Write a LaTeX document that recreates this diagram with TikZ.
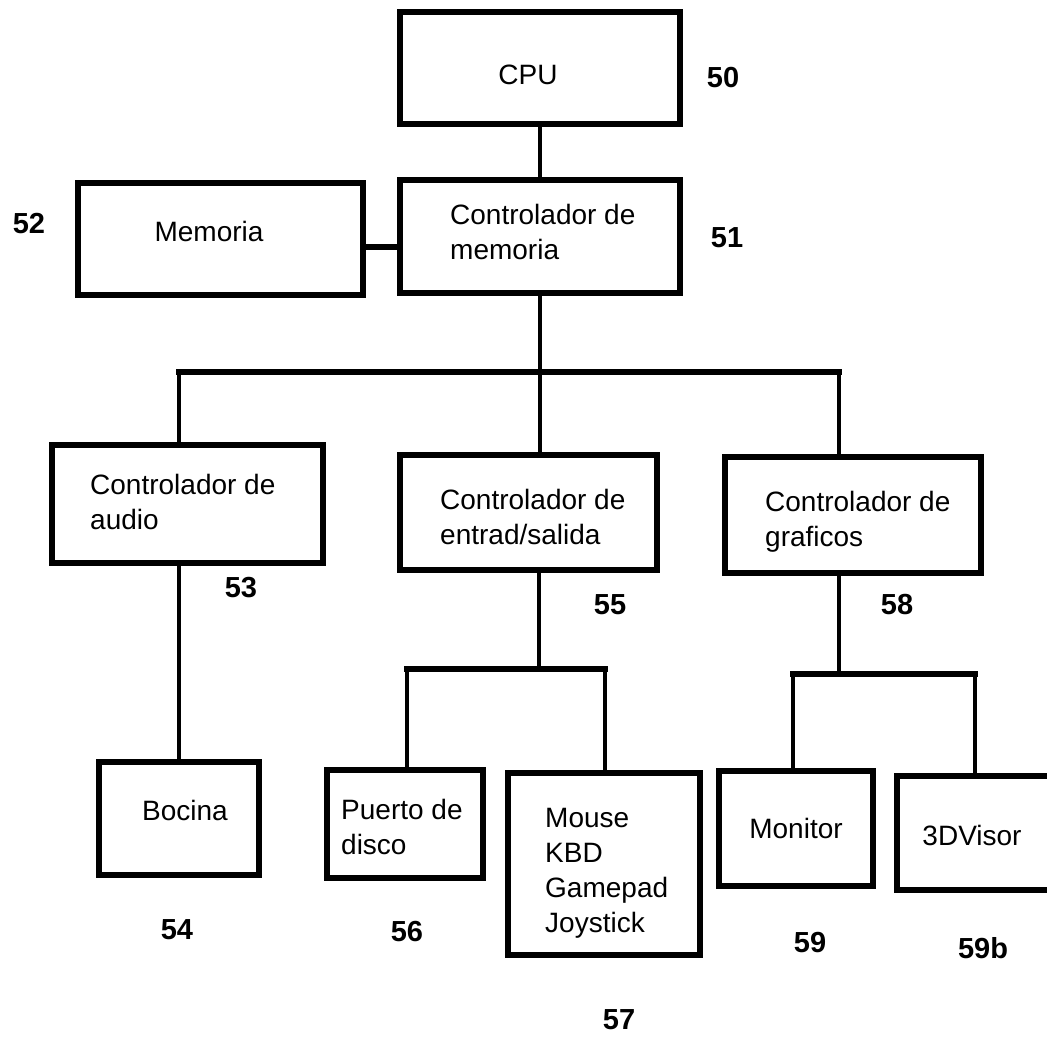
\documentclass[tikz,border=0pt]{standalone}
\usepackage{fontspec}
\setmainfont{Liberation Sans}
\begin{document}
\begin{tikzpicture}[x=1pt,y=-1pt,
  blk/.style={draw, line width=5.5pt, rectangle, inner sep=0pt},
  txt/.style={font=\fontsize{28}{35}\selectfont, align=left, inner sep=0pt},
  num/.style={font=\fontsize{29}{30}\selectfont\bfseries, inner sep=0pt},
  wire/.style={line width=3.5pt},
  bar/.style={line width=6pt, line cap=rect}]
\useasboundingbox (0,0) rectangle (1047,1037);
% boxes
\node[blk, minimum width=280pt, minimum height=112pt] (cpu) at (540,68) {};
\node[blk, minimum width=280pt, minimum height=113pt] (ctrl) at (540,236.5) {};
\node[blk, minimum width=285pt, minimum height=112pt] (mem) at (220.5,239) {};
\node[blk, minimum width=271pt, minimum height=118pt] (audio) at (187.5,504) {};
\node[blk, minimum width=257pt, minimum height=115pt] (io) at (528.5,512.5) {};
\node[blk, minimum width=256pt, minimum height=116pt] (gfx) at (853,515) {};
\node[blk, minimum width=160pt, minimum height=113pt] (bocina) at (179,818.5) {};
\node[blk, minimum width=156pt, minimum height=108pt] (puerto) at (405,824) {};
\node[blk, minimum width=192pt, minimum height=182pt] (mouse) at (604,864) {};
\node[blk, minimum width=154pt, minimum height=115pt] (monitor) at (796,828.5) {};
\node[blk, minimum width=156pt, minimum height=114pt] (visor) at (975,833) {};
% texts
\node[txt] (cpu-t) at (528,75) {CPU};
\node[txt, anchor=west] (ctrl-t) at (450,232) {Controlador de\\memoria};
\node[txt] (mem-t) at (209,231) {Memoria};
\node[txt, anchor=west] (audio-t) at (90,502) {Controlador de\\audio};
\node[txt, anchor=west] (io-t) at (440,517) {Controlador de\\entrad/salida};
\node[txt, anchor=west] (gfx-t) at (765,522) {Controlador de\\graficos};
\node[txt] (bocina-t) at (185,810) {Bocina};
\node[txt, anchor=west] (puerto-t) at (341,827) {Puerto de\\disco};
\node[txt, anchor=west] (mouse-t) at (545,873) {Mouse\\KBD\\Gamepad\\Joystick};
\node[txt] (monitor-t) at (796,828) {Monitor};
\node[txt] (visor-t) at (972,835) {3DVisor};
% reference numbers
\node[num] (n50) at (723,78) {50};
\node[num] (n51) at (727,238) {51};
\node[num] (n52) at (29,224) {52};
\node[num] (n53) at (241,588) {53};
\node[num] (n55) at (610,605) {55};
\node[num] (n58) at (897,605) {58};
\node[num] (n54) at (177,930) {54};
\node[num] (n56) at (407,932) {56};
\node[num] (n57) at (619,1020) {57};
\node[num] (n59) at (810,943) {59};
\node[num] (n59b) at (983,948) {59b};
% junction points
\coordinate (busl) at (179,372);
\coordinate (busm) at (540,372);
\coordinate (busr) at (839,372);
\coordinate (iom) at (539,669);
\coordinate (iol) at (407,669);
\coordinate (ior) at (605,669);
\coordinate (gm) at (839,674);
\coordinate (gl) at (793,674);
\coordinate (gr) at (975,674);
% connectors
\draw[wire] (cpu.south) -- (ctrl.north);
\draw[bar] (mem.east |- 0,247) -- (ctrl.west |- 0,247);
\draw[wire] (ctrl.south) -- (busm);
\draw[bar] (busl) -- (busr);
\draw[wire] (busl) -- (busl |- audio.north);
\draw[wire] (busm) -- (busm |- io.north);
\draw[wire] (busr) -- (busr |- gfx.north);
\draw[wire] (busl |- audio.south) -- (busl |- bocina.north);
\draw[wire] (iom |- io.south) -- (iom);
\draw[bar] (iol) -- (ior);
\draw[wire] (iol) -- (iol |- puerto.north);
\draw[wire] (ior) -- (ior |- mouse.north);
\draw[wire] (gm |- gfx.south) -- (gm);
\draw[bar] (gl) -- (gr);
\draw[wire] (gl) -- (gl |- monitor.north);
\draw[wire] (gr) -- (gr |- visor.north);
\end{tikzpicture}
\end{document}
